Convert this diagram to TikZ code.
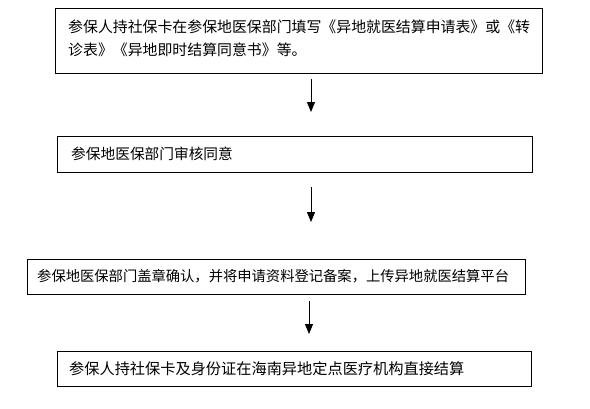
\documentclass[tikz,border=0pt]{standalone}
\usepackage{fontspec}
\newfontfamily\cjk{Noto Sans CJK SC}
\usetikzlibrary{arrows.meta}
\begin{document}
\begin{tikzpicture}[x=1pt,y=-1pt,
  stepbox/.style={draw=black,line width=1pt,rectangle,inner sep=0pt,anchor=north west},
  steptext/.style={anchor=west,inner sep=0pt,align=left},
  flowarrow/.style={draw=black,line width=1pt,-{Triangle[length=10pt,width=8pt]}}]
\useasboundingbox (0,0) rectangle (590,408);
% boxes
\node[stepbox,minimum width=487pt,minimum height=65pt] (b1) at (55,8) {};
\node[stepbox,minimum width=475pt,minimum height=36pt] (b2) at (57,136) {};
\node[stepbox,minimum width=498pt,minimum height=35pt] (b3) at (27,259) {};
\node[stepbox,minimum width=474pt,minimum height=35pt] (b4) at (57,351) {};
% texts
\node[steptext,font=\cjk\fontsize{14.9}{23}\selectfont] (t1) at (68,38.5) {参保人持社保卡在参保地医保部门填写《异地就医结算申请表》或《转\\诊表》《异地即时结算同意书》等。};
\node[steptext,font=\cjk\fontsize{14.7}{23}\selectfont] (t2) at (71,154) {参保地医保部门审核同意};
\node[steptext,font=\cjk\fontsize{14.3}{23}\selectfont] (t3) at (37,276.5) {参保地医保部门盖章确认，并将申请资料登记备案，上传异地就医结算平台};
\node[steptext,font=\cjk\fontsize{15.2}{23}\selectfont] (t4) at (69,368.5) {参保人持社保卡及身份证在海南异地定点医疗机构直接结算};
% arrows
\coordinate (a1s) at (311,79);
\coordinate (a1e) at (311,112);
\coordinate (a2s) at (311,187);
\coordinate (a2e) at (311,222);
\coordinate (a3s) at (309,301);
\coordinate (a3e) at (309,334);
\draw[flowarrow] (a1s) -- (a1e);
\draw[flowarrow] (a2s) -- (a2e);
\draw[flowarrow] (a3s) -- (a3e);
\end{tikzpicture}
\end{document}
